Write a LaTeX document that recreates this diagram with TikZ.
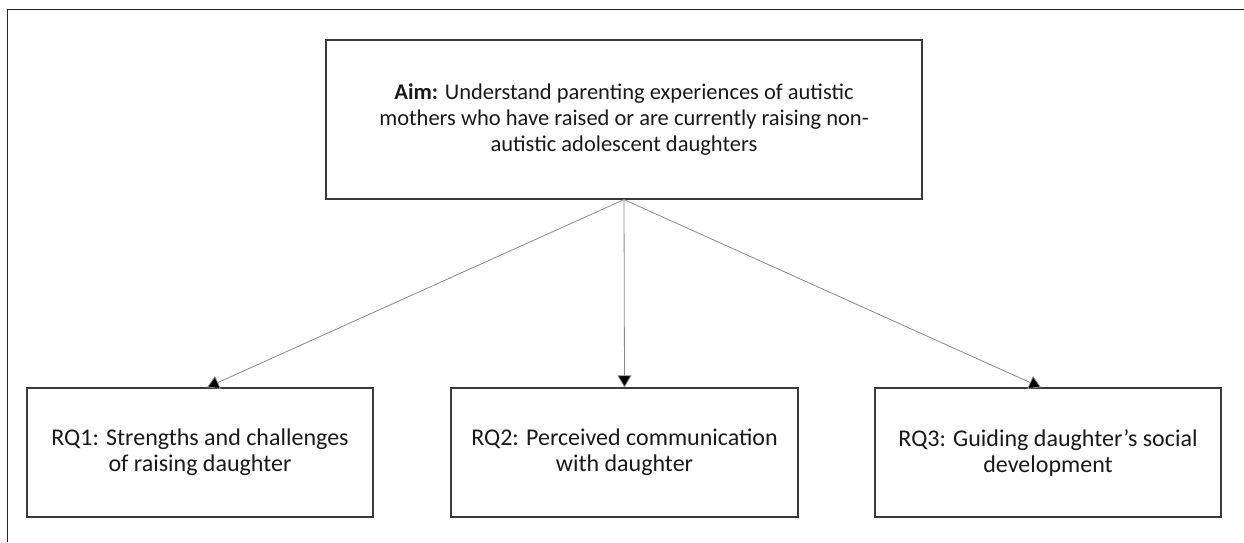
\documentclass[tikz,border=0pt]{standalone}
\usepackage{fontspec}
\setmainfont{Carlito}
\usetikzlibrary{arrows.meta,calc}
\definecolor{boxline}{HTML}{3A3A3A}
\definecolor{arrowline}{HTML}{8A8A8A}
\tikzset{
  box/.style={draw=boxline, line width=1.2pt, inner sep=0pt, align=center,
    font=\fontsize{24}{26}\selectfont, text=black!90},
  aimbox/.style={box, font=\fontsize{22.5}{26}\selectfont},
  conn/.style={draw=arrowline, line width=0.8pt,
    -{Triangle[width=14pt,length=12pt,fill=black]}, shorten >=0pt},
  frame/.style={draw=black!85, line width=1.3pt}
}
\begin{document}
\begin{tikzpicture}[x=1pt,y=-1pt]
\useasboundingbox (0,0) rectangle (1244,542);
\coordinate (ftl) at (7.5,9.5);
\coordinate (ftr) at (1244,9.5);
\coordinate (fbl) at (7.5,542);
\draw[frame] (ftr) -- (ftl) -- (fbl);
\node[aimbox, minimum width=596pt, minimum height=159pt] (aim) at (624,119.5)
  {\textbf{Aim:} Understand parenting experiences of autistic\\
   mothers who have raised or are currently raising non-\\
   autistic adolescent daughters};
\node[box, minimum width=346pt, minimum height=129pt] (rq1) at (200,452.5)
  {RQ1: Strengths and challenges\\ of raising daughter};
\node[box, minimum width=347pt, minimum height=129pt] (rq2) at (624.5,452.5)
  {RQ2: Perceived communication\\ with daughter};
\node[box, minimum width=346pt, minimum height=129pt] (rq3) at (1048,452.5)
  {RQ3: Guiding daughter’s social\\ development};
\draw[conn] (aim.south) -- ($(rq1.north)+(7,0)$);
\draw[conn] (aim.south) -- (rq2.north);
\draw[conn] (aim.south) -- ($(rq3.north)+(-7,0)$);
\end{tikzpicture}
\end{document}
